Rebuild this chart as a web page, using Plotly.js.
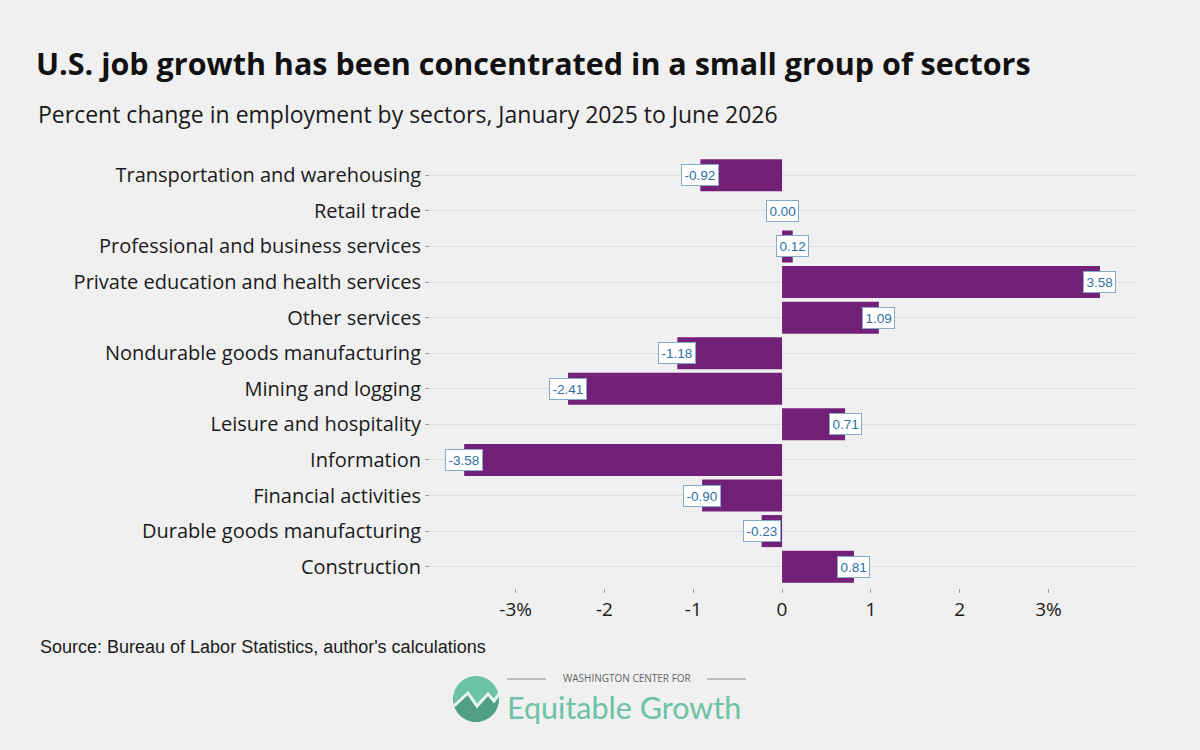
<!DOCTYPE html>
<html>
<head>
<meta charset="utf-8">
<script src="https://cdn.plot.ly/plotly-3.0.1.min.js"></script>
<style>html,body{margin:0;padding:0;background:#f0f0f0;}#chart{width:1200px;height:750px;}</style>
</head>
<body>
<div id="chart"></div>
<script>
// Data (top-to-bottom order as shown)
var sectors = [
  "Transportation and warehousing",
  "Retail trade",
  "Professional and business services",
  "Private education and health services",
  "Other services",
  "Nondurable goods manufacturing",
  "Mining and logging",
  "Leisure and hospitality",
  "Information",
  "Financial activities",
  "Durable goods manufacturing",
  "Construction"
];
var pctChange = [-0.92, 0.00, 0.12, 3.58, 1.09, -1.18, -2.41, 0.71, -3.58, -0.90, -0.23, 0.81];
var xTickVals = [-3, -2, -1, 0, 1, 2, 3];
var xTickText = ["-3%", "-2", "-1", "0", "1", "2", "3%"];

// Plot-area geometry in pixels (for placing decorative elements outside the plot)
var L = 430, R = 1135, T = 154, B = 588;
function px(x) { return (x - L) / (R - L); }
function py(y) { return (B - y) / (B - T); }

var barTrace = {
  type: "bar",
  orientation: "h",
  x: pctChange,
  y: sectors,
  marker: { color: "#732178" },
  hoverinfo: "x+y"
};

var labelAnns = sectors.map(function (s, i) {
  return {
    x: pctChange[i], y: s, xref: "x", yref: "y",
    text: pctChange[i].toFixed(2),
    showarrow: false,
    xanchor: "center", yanchor: "middle",
    font: { family: "Liberation Sans, Arial, sans-serif", size: 13.5, color: "#2f6fa6" },
    bgcolor: "#ffffff", bordercolor: "#86aacb", borderwidth: 1, borderpad: 2.5
  };
});

var otherAnns = [
  {
    xref: "paper", yref: "paper", x: px(36), y: py(114), xanchor: "left", yanchor: "middle",
    text: "Percent change in employment by sectors, January 2025 to June 2026",
    showarrow: false, font: { family: "Open Sans, sans-serif", size: 23, color: "#1a1a1a" }
  },
  {
    xref: "paper", yref: "paper", x: px(38), y: py(647), xanchor: "left", yanchor: "middle",
    text: "Source: Bureau of Labor Statistics, author's calculations",
    showarrow: false, font: { family: "Liberation Sans, Arial, sans-serif", size: 18, color: "#1a1a1a" }
  },
  {
    xref: "paper", yref: "paper", x: px(626.5), y: py(678), xanchor: "center", yanchor: "middle",
    text: "WASHINGTON CENTER FOR",
    showarrow: false, font: { family: "Open Sans, sans-serif", size: 10, color: "#666666" }
  },
  {
    xref: "paper", yref: "paper", x: px(505), y: py(707), xanchor: "left", yanchor: "middle",
    text: "Equitable Growth",
    showarrow: false, font: { family: "Lato, sans-serif", size: 30.5, color: "#6cc2a4" }
  }
];

// Logo mark shapes (decorative)
var cx = 476, cy = 699, r = 23;
var lowerPts = [[454, 706], [468, 693], [477, 706], [488, 694], [494, 701], [505, 686]];
var zig = "M" + lowerPts.map(function (p) { return px(p[0]) + "," + py(p[1]); }).join(" L");
var arc = [];
for (var a = -5; a <= 190; a += 15) {
  var rad = (a * Math.PI) / 180;
  arc.push([cx + r * Math.cos(rad), cy + r * Math.sin(rad)]);
}
var lowerPath = zig + " L" + arc.map(function (p) { return px(p[0]) + "," + py(p[1]); }).join(" L") + " Z";

var shapes = [
  { type: "circle", xref: "paper", yref: "paper", x0: px(cx - r), x1: px(cx + r), y0: py(cy + r), y1: py(cy - r),
    fillcolor: "#6cc2a4", line: { width: 0 }, layer: "above" },
  { type: "path", xref: "paper", yref: "paper", path: lowerPath, fillcolor: "#4f9f85", line: { width: 0 }, layer: "above" },
  { type: "path", xref: "paper", yref: "paper", path: zig, line: { color: "#e8f5ef", width: 3 }, layer: "above" },
  { type: "line", xref: "paper", yref: "paper", x0: px(507), x1: px(546), y0: py(679), y1: py(679), line: { color: "#888888", width: 1 } },
  { type: "line", xref: "paper", yref: "paper", x0: px(707), x1: px(746), y0: py(679), y1: py(679), line: { color: "#888888", width: 1 } }
];

var layout = {
  width: 1200, height: 750,
  paper_bgcolor: "#f0f0f0", plot_bgcolor: "#f0f0f0",
  margin: { l: L, r: 1200 - R, t: T, b: 750 - B, pad: 0 },
  showlegend: false,
  bargap: 0.1,
  title: {
    text: "<b>U.S. job growth has been concentrated in a small group of sectors</b>",
    xref: "container", yref: "container", x: 36 / 1200, xanchor: "left",
    y: 1 - 64 / 750, yanchor: "middle",
    font: { family: "Open Sans, sans-serif", size: 30.5, color: "#111111" }
  },
  xaxis: {
    range: [-3.965, 3.975],
    tickvals: xTickVals, ticktext: xTickText,
    showgrid: false, zeroline: false, showline: false,
    ticks: "outside", ticklen: 4, tickcolor: "#9a9a9a", tickwidth: 1,
    tickfont: { family: "Open Sans, sans-serif", size: 19, color: "#1a1a1a" }
  },
  yaxis: {
    type: "category",
    range: [11.6, -0.6],
    showgrid: true, gridcolor: "#dddddd", gridwidth: 1,
    zeroline: false, showline: false,
    ticks: "outside", ticklen: 4, tickcolor: "#9a9a9a", tickwidth: 1,
    ticklabelstandoff: 0,
    tickfont: { family: "Open Sans, sans-serif", size: 20, color: "#1a1a1a" }
  },
  annotations: labelAnns.concat(otherAnns),
  shapes: shapes
};

Plotly.newPlot("chart", [barTrace], layout, { displayModeBar: false, staticPlot: true });
</script>
</body>
</html>
